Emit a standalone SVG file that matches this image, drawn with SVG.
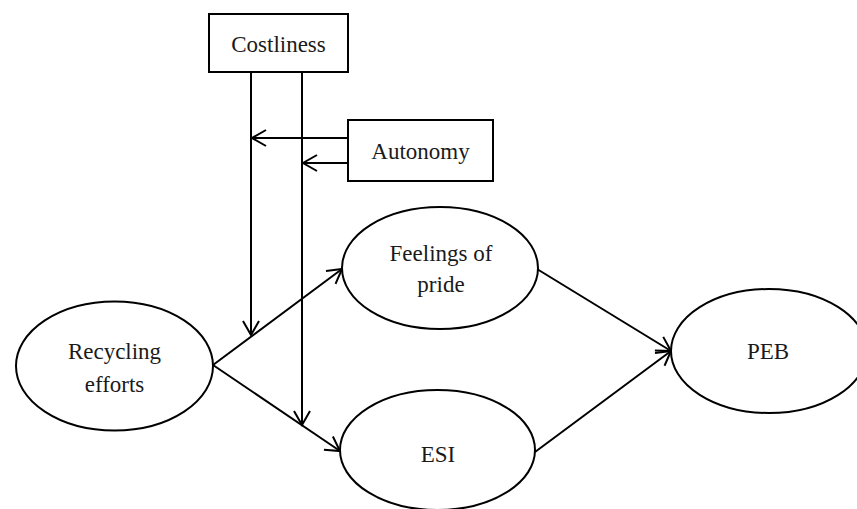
<svg xmlns="http://www.w3.org/2000/svg" width="857" height="509" viewBox="0 0 857 509">
<style>
.box{fill:#fff;stroke:#000;stroke-width:2}
.ell{fill:#fff;stroke:#000;stroke-width:2}
.lbl{font-family:"Liberation Serif","Times New Roman",serif;font-size:23px;fill:#1a1a1a;text-anchor:middle}
.con{fill:none;stroke:#000;stroke-width:2;marker-end:url(#arr)}
</style>
<defs>
<marker id="arr" markerUnits="userSpaceOnUse" markerWidth="20" markerHeight="20" viewBox="-16 -10 20 20" refX="0" refY="0" orient="auto">
<path d="M -14 -8 L 0 0 L -14 8" fill="none" stroke="#000" stroke-width="2"/>
</marker>
</defs>
<rect width="857" height="509" fill="#fff"/>
<g id="connectors">
<line class="con" x1="251" y1="73" x2="251" y2="335"/>
<line class="con" x1="302" y1="73" x2="302" y2="425"/>
<line class="con" x1="348" y1="138" x2="252" y2="138"/>
<line class="con" x1="348" y1="163" x2="303" y2="163"/>
<line class="con" x1="213" y1="365" x2="342" y2="269"/>
<line class="con" x1="213" y1="365" x2="340" y2="451"/>
<line class="con" x1="537" y1="269" x2="671" y2="351"/>
<line class="con" x1="535" y1="452" x2="671" y2="351"/>
</g>
<g id="costliness">
<rect class="box" x="209" y="14" width="139" height="58"/>
<text class="lbl" x="278.5" y="52">Costliness</text>
</g>
<g id="autonomy">
<rect class="box" x="348" y="120" width="145" height="61"/>
<text class="lbl" x="420.5" y="159">Autonomy</text>
</g>
<g id="recycling">
<ellipse class="ell" cx="114.5" cy="366" rx="98.5" ry="64.5"/>
<text class="lbl" x="114.5" y="359">Recycling</text>
<text class="lbl" x="114.5" y="392">efforts</text>
</g>
<g id="pride">
<ellipse class="ell" cx="440" cy="268" rx="98" ry="61"/>
<text class="lbl" x="441" y="261">Feelings of</text>
<text class="lbl" x="441" y="292">pride</text>
</g>
<g id="esi">
<ellipse class="ell" cx="437.5" cy="450" rx="97.5" ry="60"/>
<text class="lbl" x="438" y="462">ESI</text>
</g>
<g id="peb">
<ellipse class="ell" cx="769" cy="351" rx="98" ry="62"/>
<text class="lbl" x="768" y="359">PEB</text>
</g>
</svg>
